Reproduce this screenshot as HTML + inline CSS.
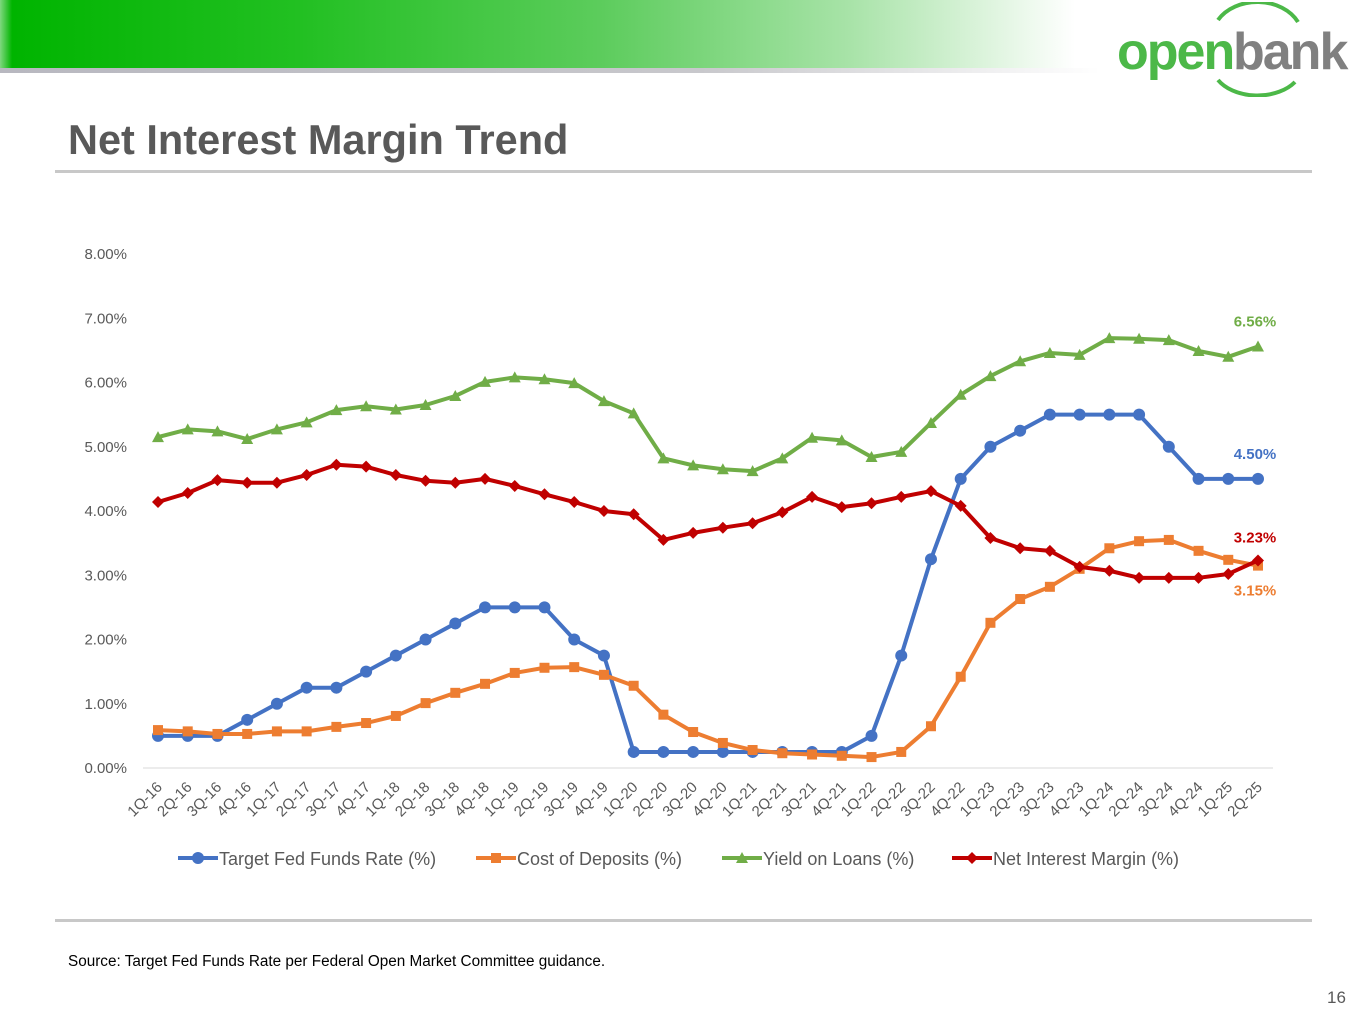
<!DOCTYPE html>
<html><head><meta charset="utf-8"><style>
body{margin:0;width:1365px;height:1024px;background:#fff;position:relative;overflow:hidden;font-family:"Liberation Sans",sans-serif}
.abs{position:absolute}
</style></head><body>
<div class="abs" style="left:0;top:0;width:1365px;height:68px;background:linear-gradient(90deg,#7fd87f 0,#00b400 12px,#22c022 300px,#5ccc5c 600px,#a8e3a8 850px,#fff 1075px)"></div>
<div class="abs" style="left:0;top:68px;width:1100px;height:5px;background:linear-gradient(90deg,#b8b8c0 0,#c8c8cc 700px,#fff 1100px)"></div>
<div class="abs" style="left:1115px;top:2px;width:250px;height:95px">
<svg width="250" height="95"><path d="M103 18 A45 35 0 0 1 183 20" stroke="#4cb848" stroke-width="4" fill="none"/><path d="M103 78 A45 30 0 0 0 180 80" stroke="#4cb848" stroke-width="4" fill="none"/>
<text x="2" y="67" font-family="Liberation Sans" font-size="52" font-weight="bold" fill="#4cb848" letter-spacing="-2">open</text>
<text x="118" y="67" font-family="Liberation Sans" font-size="52" font-weight="bold" fill="#808080" letter-spacing="-2">bank</text></svg></div>
<div class="abs" style="left:68px;top:116px;font-size:41.5px;font-weight:bold;color:#595959">Net Interest Margin Trend</div>
<div class="abs" style="left:55px;top:170px;width:1257px;height:3px;background:#c8c8c8"></div>
<div class="abs" style="left:55px;top:919px;width:1257px;height:3px;background:#c8c8c8"></div>
<div class="abs" style="left:68px;top:953px;font-size:15.3px;color:#000">Source: Target Fed Funds Rate per Federal Open Market Committee guidance.</div>
<div class="abs" style="left:1327px;top:988px;font-size:17px;color:#595959">16</div>
<svg id="chart" class="abs" style="left:0;top:0" width="1365" height="1024"></svg>
<script>
const categories=["1Q-16","2Q-16","3Q-16","4Q-16","1Q-17","2Q-17","3Q-17","4Q-17","1Q-18","2Q-18","3Q-18","4Q-18","1Q-19","2Q-19","3Q-19","4Q-19","1Q-20","2Q-20","3Q-20","4Q-20","1Q-21","2Q-21","3Q-21","4Q-21","1Q-22","2Q-22","3Q-22","4Q-22","1Q-23","2Q-23","3Q-23","4Q-23","1Q-24","2Q-24","3Q-24","4Q-24","1Q-25","2Q-25"];
const fedFunds=[0.5,0.5,0.5,0.75,1.0,1.25,1.25,1.5,1.75,2.0,2.25,2.5,2.5,2.5,2.0,1.75,0.25,0.25,0.25,0.25,0.25,0.25,0.25,0.25,0.5,1.75,3.25,4.5,5.0,5.25,5.5,5.5,5.5,5.5,5.0,4.5,4.5,4.5];
const costDeposits=[0.59,0.57,0.53,0.53,0.57,0.57,0.64,0.70,0.81,1.01,1.17,1.31,1.48,1.56,1.57,1.45,1.28,0.83,0.56,0.39,0.28,0.23,0.21,0.19,0.17,0.25,0.65,1.42,2.26,2.63,2.82,3.10,3.42,3.53,3.55,3.38,3.24,3.15];
const yieldLoans=[5.15,5.27,5.24,5.12,5.27,5.38,5.57,5.63,5.58,5.65,5.79,6.01,6.08,6.05,5.99,5.71,5.52,4.82,4.71,4.65,4.62,4.82,5.14,5.10,4.84,4.92,5.37,5.81,6.10,6.33,6.46,6.43,6.69,6.68,6.66,6.49,6.40,6.56];
const nim=[4.14,4.28,4.48,4.44,4.44,4.56,4.72,4.69,4.56,4.47,4.44,4.50,4.39,4.26,4.14,4.00,3.95,3.55,3.66,3.74,3.81,3.98,4.22,4.06,4.12,4.22,4.31,4.08,3.58,3.42,3.38,3.13,3.07,2.96,2.96,2.96,3.02,3.23];
const yTicks=[0,1,2,3,4,5,6,7,8];
const svg=document.getElementById('chart');const NS="http://www.w3.org/2000/svg";
const x=i=>158+i*(1100/(categories.length-1));
const y=v=>768-v*64.25;
function mk(t,a,p){const e=document.createElementNS(NS,t);for(const k in a)e.setAttribute(k,a[k]);(p||svg).appendChild(e);return e;}
const F='"Liberation Sans","DejaVu Sans",sans-serif';
for(const t of yTicks){const e=mk('text',{x:127,y:y(t)+5,'text-anchor':'end','font-size':15,fill:'#595959','font-family':F});e.textContent=t.toFixed(2)+'%';

}
const ax=mk('line',{x1:143,x2:1273,y1:y(0),y2:y(0),stroke:'#d9d9d9','stroke-width':1});


categories.forEach((c,i)=>{const e=mk('text',{x:x(i)+5,y:788,'text-anchor':'end','font-size':15,fill:'#595959','font-family':F,transform:`rotate(-45 ${x(i)+5} 788)`});e.textContent=c;

});
function marker(shape,cx,cy,col,g){if(shape==='circle')return mk('circle',{cx,cy,r:6,fill:col},g);
if(shape==='square')return mk('rect',{x:cx-5,y:cy-5,width:10,height:10,fill:col},g);
if(shape==='tri')return mk('polygon',{points:`${cx},${cy-6} ${cx+6},${cy+5} ${cx-6},${cy+5}`,fill:col},g);
return mk('polygon',{points:`${cx},${cy-6} ${cx+6},${cy} ${cx},${cy+6} ${cx-6},${cy}`,fill:col},g);}
const series=[[fedFunds,'#4472c4','circle','fed-funds-series'],[costDeposits,'#ed7d31','square','cost-deposits-series'],[yieldLoans,'#70ad47','tri','yield-loans-series'],[nim,'#c00000','diamond','nim-series']];
for(const [d,col,sh,nm] of series){const g=mk('g',{});


mk('polyline',{points:d.map((v,i)=>x(i)+','+y(v)).join(' '),fill:'none',stroke:col,'stroke-width':4,'stroke-linejoin':'round'},g);
d.forEach((v,i)=>{const m=marker(sh,x(i),y(v),col,g);

});}
const last=categories.length-1;
const lbls=[[yieldLoans[last],'#70ad47',-20],[fedFunds[last],'#4472c4',-20],[nim[last],'#c00000',-18],[costDeposits[last],'#ed7d31',30]];
for(const [v,col,dy] of lbls){const e=mk('text',{x:1255,y:y(v)+dy,'text-anchor':'middle','font-size':15,'font-weight':'bold',fill:col,'font-family':F});e.textContent=v.toFixed(2)+'%';

}
const legend=[['Target Fed Funds Rate (%)','#4472c4','circle',178],['Cost of Deposits (%)','#ed7d31','square',476],['Yield on Loans (%)','#70ad47','tri',722],['Net Interest Margin (%)','#c00000','diamond',952]];
for(const [t,col,sh,lx] of legend){const g=mk('g',{});


mk('line',{x1:lx,x2:lx+40,y1:858,y2:858,stroke:col,'stroke-width':4},g);marker(sh,lx+20,858,col,g);
const e=mk('text',{x:lx+41,y:865,'font-size':18,fill:'#595959','font-family':F},g);e.textContent=t;}
</script>
</body></html>
